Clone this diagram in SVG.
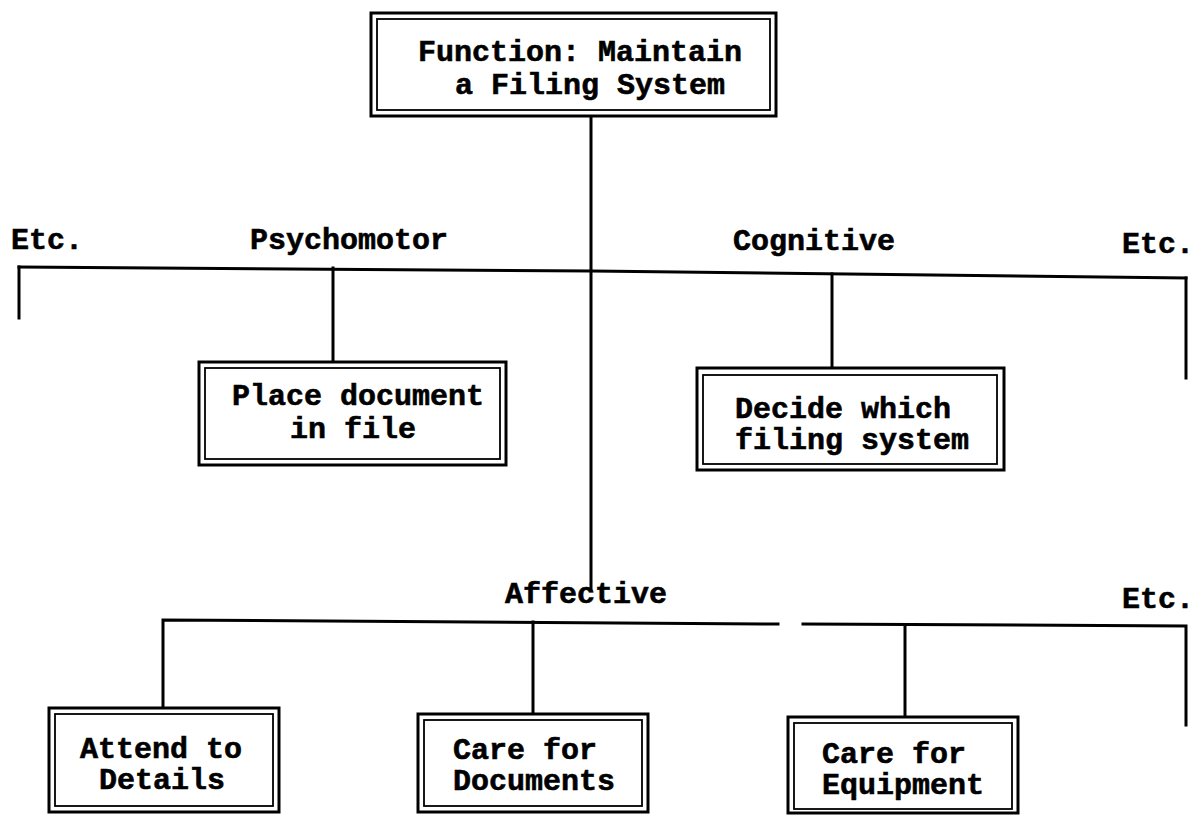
<svg xmlns="http://www.w3.org/2000/svg" width="1194" height="815" viewBox="0 0 1194 815">
<style>
.o{fill:#fff;stroke:#000;stroke-width:3}
.i{fill:none;stroke:#000;stroke-width:1.8}
.l{fill:none;stroke:#000;stroke-width:3;stroke-linecap:square}
text{font-family:"Liberation Mono","Courier New",monospace;font-weight:bold;font-size:30px;fill:#000;stroke:#000;stroke-width:0.6}
</style>
<rect width="1194" height="815" fill="#fff"/>
<g id="connectors">
<path class="l" d="M591 116 V590"/>
<path class="l" d="M19 267 L592 271 L1186 278"/>
<path class="l" d="M19 267 V318"/>
<path class="l" d="M1186 278 V378"/>
<path class="l" d="M333 268 V362"/>
<path class="l" d="M832 274 V368"/>
<path class="l" d="M163 708 V620 L778 624"/>
<path class="l" d="M803 624 L1186 626 V725"/>
<path class="l" d="M533 622 V714"/>
<path class="l" d="M905 625 V717"/>
</g>
<g id="labels">
<text x="11" y="249">Etc.</text>
<text x="250" y="249">Psychomotor</text>
<text x="733" y="250">Cognitive</text>
<text x="1122" y="253">Etc.</text>
<text x="505" y="603">Affective</text>
<text x="1122" y="608">Etc.</text>
</g>
<g id="root">
<rect class="o" x="371" y="13" width="405" height="103"/>
<rect class="i" x="377" y="19" width="393" height="91"/>
<text x="418" y="61">Function: Maintain</text>
<text x="455" y="94">a Filing System</text>
</g>
<g id="place">
<rect class="o" x="199" y="362" width="307" height="103"/>
<rect class="i" x="205" y="368" width="295" height="91"/>
<text x="232" y="405">Place document</text>
<text x="290" y="438">in file</text>
</g>
<g id="decide">
<rect class="o" x="697" y="368" width="307" height="102"/>
<rect class="i" x="703" y="375" width="294" height="89"/>
<text x="735" y="418">Decide which</text>
<text x="735" y="449">filing system</text>
</g>
<g id="attend">
<rect class="o" x="49" y="708" width="230" height="104"/>
<rect class="i" x="55" y="714" width="218" height="92"/>
<text x="80" y="758">Attend to</text>
<text x="99" y="789">Details</text>
</g>
<g id="documents">
<rect class="o" x="418" y="714" width="230" height="98"/>
<rect class="i" x="424" y="720" width="218" height="86"/>
<text x="453" y="759">Care for</text>
<text x="453" y="790">Documents</text>
</g>
<g id="equipment">
<rect class="o" x="788" y="717" width="230" height="96"/>
<rect class="i" x="794" y="723" width="218" height="86"/>
<text x="822" y="763">Care for</text>
<text x="822" y="794">Equipment</text>
</g>
</svg>
